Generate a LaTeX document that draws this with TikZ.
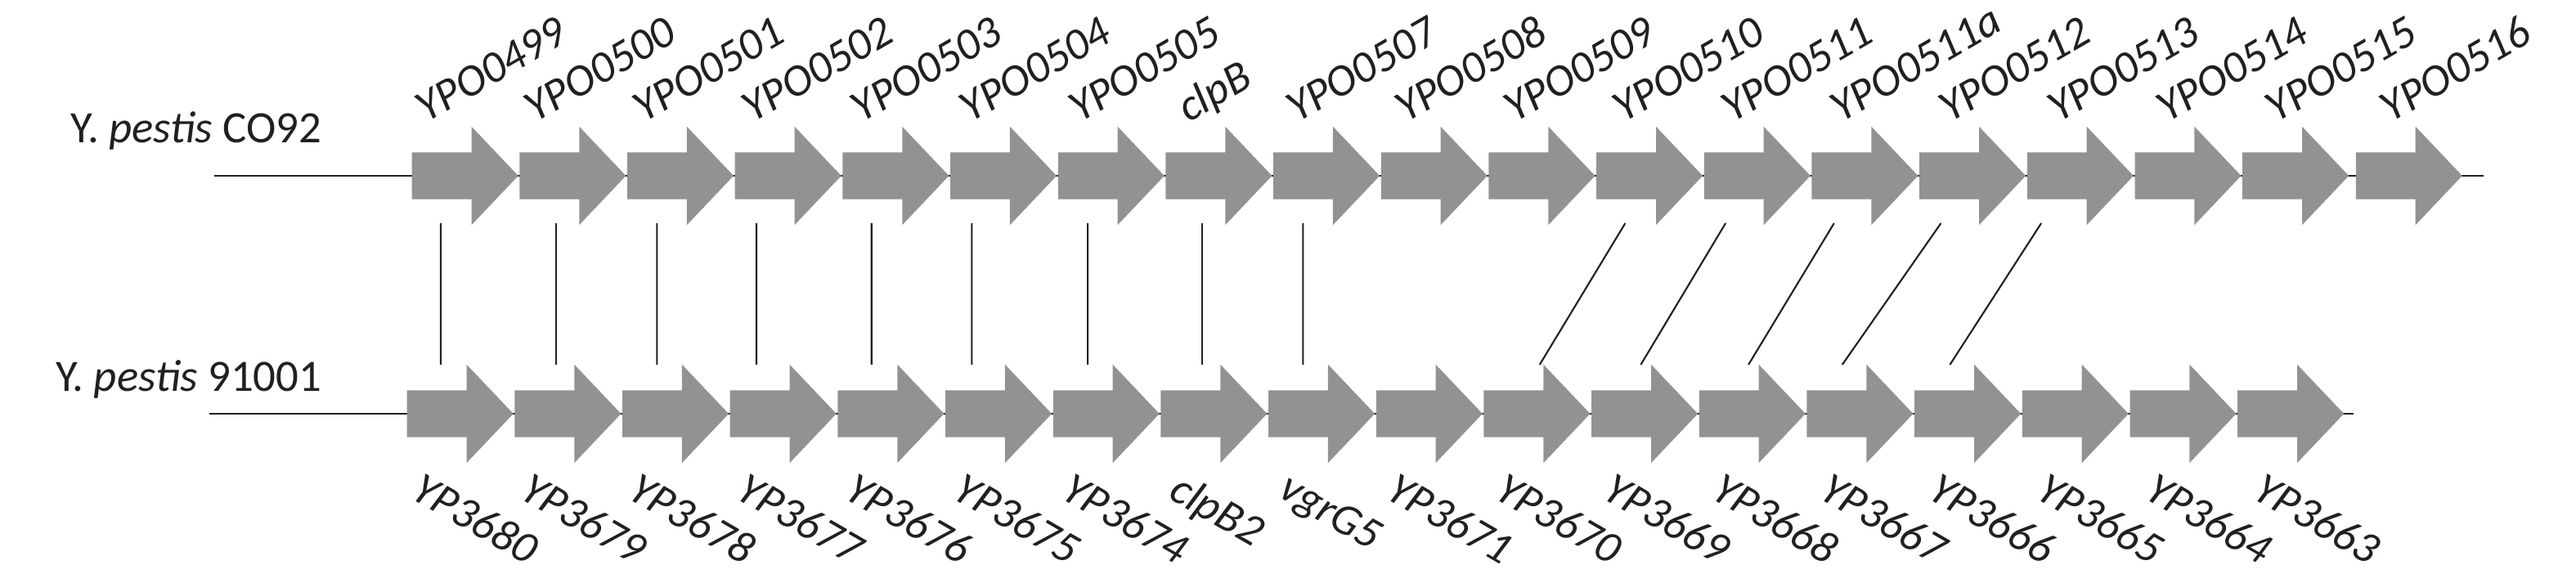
\documentclass[tikz,border=0pt]{standalone}
\usepackage{fontspec}
\setmainfont{Carlito}
\usetikzlibrary{calc,shapes.arrows,positioning}
\definecolor{genegray}{RGB}{147,146,147}
\definecolor{ink}{RGB}{35,31,32}
\tikzset{gene/.style={single arrow, fill=genegray, draw=none, anchor=tail, inner sep=0pt, text height=0.28cm, text depth=0.28cm, minimum height=1.30cm, single arrow head extend=0.315cm, single arrow tip angle=93, single arrow head indent=0pt}, toplab/.style={anchor=base west, rotate=30, inner sep=0pt, text=ink, font=\fontsize{15.6}{18}\selectfont\itshape}, botlab/.style={anchor=north west, rotate=-30, inner sep=0pt, text=ink, font=\fontsize{15.6}{18}\selectfont\itshape}, strain/.style={anchor=base east, inner sep=0pt, text=ink, font=\fontsize{15.6}{18}\selectfont}, genome/.style={line width=0.75pt, draw=ink}, link/.style={line width=0.6pt, draw=ink}}

\begin{document}
\begin{tikzpicture}
    \useasboundingbox (0,0) rectangle (31.5,7.02);
    \node[strain] (co) at (3.94,5.27) {Y. \textit{pestis} CO92};
    \node[strain] (yp) at (3.94,2.23) {Y. \textit{pestis} 91001};
    \coordinate (cs) at (2.62,4.87);
    \coordinate (ce) at (30.37,4.87);
    \coordinate (ps) at (2.56,1.96);
    \coordinate (pe) at (28.78,1.96);
    \draw[genome] (cs) -- (ce);
    \draw[genome] (ps) -- (pe);
    \node[gene] (C1) at (5.03,4.87) {};
    \foreach \i [count=\j] in {2,...,18} \node[gene] (C\i) at (C\j.tip) {};
    \node[gene] (C19) at ([xshift=0.07cm]C18.tip) {};
    \node[gene] (P1) at (4.97,1.96) {};
    \foreach \i [count=\j] in {2,...,18} \node[gene] (P\i) at (P\j.tip) {};
    \foreach \g [count=\i, evaluate=\i as \dx using 0.166+0.014*\i] in {YPO0499,YPO0500,YPO0501,YPO0502,YPO0503,YPO0504,YPO0505,clpB,YPO0507,YPO0508,YPO0509,YPO0510,YPO0511,YPO0511a,YPO0512,YPO0513,YPO0514,YPO0515,YPO0516}
        \node[toplab] (lc\i) at ([shift={(\dx,0.64)}]C\i.tail) {\g};
    \foreach \g [count=\i, evaluate=\i as \dx using 0.21+0.008*\i] in {YP3680,YP3679,YP3678,YP3677,YP3676,YP3675,YP3674,clpB2,vgrG5,YP3671,YP3670,YP3669,YP3668,YP3667,YP3666,YP3665,YP3664,YP3663}
        \node[botlab] (lp\i) at ([shift={(\dx,-0.69)}]P\i.tail) {\g};
    \foreach \a/\da/\b/\db in {1/0.36/1/0.42, 2/0.45/2/0.51, 3/0.37/3/0.43, 4/0.27/4/0.33, 5/0.36/5/0.42, 6/0.27/6/0.33, 7/0.37/7/0.43, 8/0.45/8/0.51, 9/0.37/9/0.43, 12/0.36/11/0.69, 13/0.27/12/0.61, 14/0.28/13/0.61, 15/0.27/14/0.44, 16/0.18/15/0.44}
        \draw[link] ([shift={(\da,-0.58)}]C\a.tail) -- ([shift={(\db,0.60)}]P\b.tail);
\end{tikzpicture}
\end{document}
